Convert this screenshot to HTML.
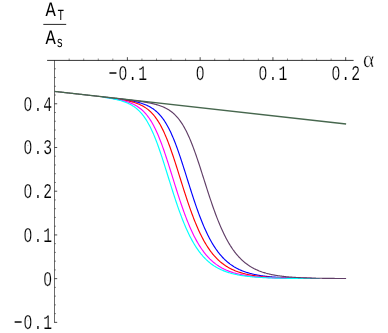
<!DOCTYPE html>
<html><head><meta charset="utf-8"><title>A_T/A_s vs alpha</title><style>html,body{margin:0;padding:0;background:#fff;}body{width:388px;height:333px;overflow:hidden;font-family:"Liberation Sans",sans-serif;}</style></head><body>
<svg width="388" height="333" viewBox="0 0 388 333" style="display:block;will-change:transform">
<rect width="388" height="333" fill="#fff"/>
<g stroke="#000" stroke-width="1" fill="none" stroke-opacity="0.7">
<path d="M47.1,60.4 H353.6" stroke-opacity="0.8"/>
<path d="M54.5,60.4 V322.8" stroke-opacity="0.58"/>
<path d="M69.16,60.4 v-1.9" stroke-opacity="0.45"/>
<path d="M83.71,60.4 v-1.9" stroke-opacity="0.45"/>
<path d="M98.27,60.4 v-1.9" stroke-opacity="0.45"/>
<path d="M112.82,60.4 v-1.9" stroke-opacity="0.45"/>
<path d="M127.38,60.4 v-3.2"/>
<path d="M141.93,60.4 v-1.9" stroke-opacity="0.45"/>
<path d="M156.49,60.4 v-1.9" stroke-opacity="0.45"/>
<path d="M171.04,60.4 v-1.9" stroke-opacity="0.45"/>
<path d="M185.59,60.4 v-1.9" stroke-opacity="0.45"/>
<path d="M200.15,60.4 v-3.2"/>
<path d="M214.71,60.4 v-1.9" stroke-opacity="0.45"/>
<path d="M229.26,60.4 v-1.9" stroke-opacity="0.45"/>
<path d="M243.81,60.4 v-1.9" stroke-opacity="0.45"/>
<path d="M258.37,60.4 v-1.9" stroke-opacity="0.45"/>
<path d="M272.93,60.4 v-3.2"/>
<path d="M287.48,60.4 v-1.9" stroke-opacity="0.45"/>
<path d="M302.04,60.4 v-1.9" stroke-opacity="0.45"/>
<path d="M316.59,60.4 v-1.9" stroke-opacity="0.45"/>
<path d="M331.14,60.4 v-1.9" stroke-opacity="0.45"/>
<path d="M345.70,60.4 v-3.2"/>
<path d="M54.5,322.37 h2.7"/>
<path d="M54.5,313.63 h1.5" stroke-opacity="0.45"/>
<path d="M54.5,304.88 h1.5" stroke-opacity="0.45"/>
<path d="M54.5,296.14 h1.5" stroke-opacity="0.45"/>
<path d="M54.5,287.39 h1.5" stroke-opacity="0.45"/>
<path d="M54.5,278.65 h2.7"/>
<path d="M54.5,269.91 h1.5" stroke-opacity="0.45"/>
<path d="M54.5,261.16 h1.5" stroke-opacity="0.45"/>
<path d="M54.5,252.42 h1.5" stroke-opacity="0.45"/>
<path d="M54.5,243.67 h1.5" stroke-opacity="0.45"/>
<path d="M54.5,234.93 h2.7"/>
<path d="M54.5,226.19 h1.5" stroke-opacity="0.45"/>
<path d="M54.5,217.44 h1.5" stroke-opacity="0.45"/>
<path d="M54.5,208.70 h1.5" stroke-opacity="0.45"/>
<path d="M54.5,199.95 h1.5" stroke-opacity="0.45"/>
<path d="M54.5,191.21 h2.7"/>
<path d="M54.5,182.47 h1.5" stroke-opacity="0.45"/>
<path d="M54.5,173.72 h1.5" stroke-opacity="0.45"/>
<path d="M54.5,164.98 h1.5" stroke-opacity="0.45"/>
<path d="M54.5,156.23 h1.5" stroke-opacity="0.45"/>
<path d="M54.5,147.49 h2.7"/>
<path d="M54.5,138.75 h1.5" stroke-opacity="0.45"/>
<path d="M54.5,130.00 h1.5" stroke-opacity="0.45"/>
<path d="M54.5,121.26 h1.5" stroke-opacity="0.45"/>
<path d="M54.5,112.51 h1.5" stroke-opacity="0.45"/>
<path d="M54.5,103.77 h2.7"/>
<path d="M54.5,95.03 h1.5" stroke-opacity="0.45"/>
<path d="M54.5,86.28 h1.5" stroke-opacity="0.45"/>
<path d="M54.5,77.54 h1.5" stroke-opacity="0.45"/>
<path d="M54.5,68.79 h1.5" stroke-opacity="0.45"/>
</g>
<g fill="none" stroke-width="1.15" stroke-linejoin="round">
<path d="M121.07,99.18 L121.77,99.28 L122.46,99.38 L123.16,99.48 L123.85,99.58 L124.55,99.69 L125.24,99.80 L125.94,99.91 L126.63,100.02 L127.33,100.13 L128.02,100.25 L128.71,100.37 L129.41,100.49 L130.10,100.62 L130.80,100.75 L131.49,100.88 L132.19,101.01 L132.88,101.15 L133.58,101.30 L134.27,101.45 L134.96,101.60 L135.66,101.76 L136.35,101.92 L137.05,102.09 L137.74,102.27 L138.44,102.45 L139.13,102.64 L139.83,102.84 L140.52,103.04 L141.22,103.25 L141.91,103.48 L142.60,103.71 L143.30,103.95 L143.99,104.20 L144.69,104.47 L145.38,104.74 L146.08,105.03 L146.77,105.34 L147.47,105.65 L148.16,105.99 L148.86,106.34 L149.55,106.70 L150.24,107.09 L150.94,107.49 L151.63,107.91 L152.33,108.36 L153.02,108.83 L153.72,109.32 L154.41,109.84 L155.11,110.38 L155.80,110.95 L156.50,111.55 L157.19,112.18 L157.88,112.84 L158.58,113.53 L159.27,114.26 L159.97,115.02 L160.66,115.82 L161.36,116.66 L162.05,117.54 L162.75,118.46 L163.44,119.43 L164.13,120.43 L164.83,121.49 L165.52,122.58 L166.22,123.73 L166.91,124.92 L167.61,126.16 L168.30,127.45 L169.00,128.79 L169.69,130.18 L170.39,131.62 L171.08,133.11 L171.77,134.65 L172.47,136.24 L173.16,137.88 L173.86,139.56 L174.55,141.30 L175.25,143.08 L175.94,144.90 L176.64,146.77 L177.33,148.67 L178.03,150.62 L178.72,152.60 L179.41,154.62 L180.11,156.67 L180.80,158.75 L181.50,160.86 L182.19,162.99 L182.89,165.14 L183.58,167.30 L184.28,169.49 L184.97,171.68 L185.67,173.88 L186.36,176.09 L187.05,178.30 L187.75,180.51 L188.44,182.72 L189.14,184.92 L189.83,187.12 L190.53,189.30 L191.22,191.47 L191.92,193.62 L192.61,195.75 L193.30,197.87 L194.00,199.96 L194.69,202.03 L195.39,204.07 L196.08,206.08 L196.78,208.07 L197.47,210.02 L198.17,211.95 L198.86,213.84 L199.56,215.69 L200.25,217.52 L200.94,219.31 L201.64,221.06 L202.33,222.78 L203.03,224.46 L203.72,226.10 L204.42,227.70 L205.11,229.27 L205.81,230.80 L206.50,232.30 L207.20,233.76 L207.89,235.18 L208.58,236.56 L209.28,237.91 L209.97,239.22 L210.67,240.49 L211.36,241.73 L212.06,242.94 L212.75,244.11 L213.45,245.25 L214.14,246.35 L214.84,247.42 L215.53,248.46 L216.22,249.47 L216.92,250.45 L217.61,251.40 L218.31,252.32 L219.00,253.21 L219.70,254.07 L220.39,254.90 L221.09,255.71 L221.78,256.49 L222.47,257.25 L223.17,257.98 L223.86,258.69 L224.56,259.37 L225.25,260.04 L225.95,260.68 L226.64,261.30 L227.34,261.90 L228.03,262.47 L228.73,263.03 L229.42,263.57 L230.11,264.10 L230.81,264.60 L231.50,265.09 L232.20,265.56 L232.89,266.01 L233.59,266.45 L234.28,266.88 L234.98,267.29 L235.67,267.68 L236.37,268.07 L237.06,268.43 L237.75,268.79 L238.45,269.13 L239.14,269.47 L239.84,269.79 L240.53,270.10 L241.23,270.39 L241.92,270.68 L242.62,270.96 L243.31,271.23 L244.01,271.49 L244.70,271.74 L245.39,271.98 L246.09,272.21 L246.78,272.44 L247.48,272.65 L248.17,272.86 L248.87,273.06 L249.56,273.26 L250.26,273.45 L250.95,273.63 L251.64,273.80 L252.34,273.97 L253.03,274.14 L253.73,274.29 L254.42,274.44 L255.12,274.59 L255.81,274.73 L256.51,274.87 L257.20,275.00 L257.90,275.13 L258.59,275.25 L259.28,275.37 L259.98,275.48 L260.67,275.59 L261.37,275.70 L262.06,275.80 L262.76,275.90 L263.45,275.99 L264.15,276.09 L264.84,276.17 L265.54,276.26 L266.23,276.34 L266.92,276.42 L267.62,276.50 L268.31,276.57 L269.01,276.64 L269.70,276.71 L270.40,276.78 L271.09,276.84 L271.79,276.91 L272.48,276.97 L273.18,277.02 L273.87,277.08 L274.56,277.13 L275.26,277.18 L275.95,277.23 L276.65,277.28 L277.34,277.33 L278.04,277.37 L278.73,277.42 L279.43,277.46 L280.12,277.50 L280.81,277.54 L281.51,277.58 L282.20,277.61 L282.90,277.65 L283.59,277.68 L284.29,277.71 L284.98,277.74 L285.68,277.77 L286.37,277.80 L287.07,277.83 L287.76,277.86 L288.45,277.88 L289.15,277.91 L289.84,277.93 L290.54,277.96 L291.23,277.98 L291.93,278.00 L292.62,278.02 L293.32,278.04 L294.01,278.06 L294.71,278.08 L295.40,278.10 L296.09,278.12 L296.79,278.14 L297.48,278.15 L298.18,278.17 L298.87,278.18 L299.57,278.20 L300.26,278.21 L300.96,278.23 L301.65,278.24 L302.35,278.25 L303.04,278.26 L303.73,278.28 L304.43,278.29 L305.12,278.30 L305.82,278.31 L306.51,278.32 L307.21,278.33 L307.90,278.34 L308.60,278.35 L309.29,278.36 L309.98,278.37 L310.68,278.37 L311.37,278.38 L312.07,278.39" stroke="#0000ff"/>
<path d="M114.13,98.40 L114.82,98.50 L115.52,98.60 L116.21,98.71 L116.91,98.81 L117.60,98.92 L118.30,99.02 L118.99,99.13 L119.69,99.25 L120.38,99.36 L121.07,99.48 L121.77,99.60 L122.46,99.72 L123.16,99.85 L123.85,99.98 L124.55,100.11 L125.24,100.25 L125.94,100.39 L126.63,100.53 L127.33,100.68 L128.02,100.83 L128.71,100.99 L129.41,101.16 L130.10,101.33 L130.80,101.51 L131.49,101.69 L132.19,101.88 L132.88,102.08 L133.58,102.28 L134.27,102.50 L134.96,102.72 L135.66,102.96 L136.35,103.20 L137.05,103.45 L137.74,103.72 L138.44,104.00 L139.13,104.29 L139.83,104.59 L140.52,104.91 L141.22,105.25 L141.91,105.60 L142.60,105.97 L143.30,106.36 L143.99,106.76 L144.69,107.19 L145.38,107.64 L146.08,108.11 L146.77,108.61 L147.47,109.13 L148.16,109.67 L148.86,110.25 L149.55,110.85 L150.24,111.49 L150.94,112.15 L151.63,112.85 L152.33,113.59 L153.02,114.36 L153.72,115.16 L154.41,116.01 L155.11,116.90 L155.80,117.82 L156.50,118.79 L157.19,119.81 L157.88,120.87 L158.58,121.97 L159.27,123.13 L159.97,124.33 L160.66,125.58 L161.36,126.88 L162.05,128.23 L162.75,129.63 L163.44,131.08 L164.13,132.58 L164.83,134.13 L165.52,135.73 L166.22,137.38 L166.91,139.07 L167.61,140.82 L168.30,142.61 L169.00,144.44 L169.69,146.32 L170.39,148.24 L171.08,150.20 L171.77,152.19 L172.47,154.22 L173.16,156.28 L173.86,158.37 L174.55,160.49 L175.25,162.63 L175.94,164.79 L176.64,166.97 L177.33,169.16 L178.03,171.37 L178.72,173.58 L179.41,175.80 L180.11,178.02 L180.80,180.24 L181.50,182.46 L182.19,184.67 L182.89,186.87 L183.58,189.06 L184.28,191.24 L184.97,193.40 L185.67,195.54 L186.36,197.67 L187.05,199.77 L187.75,201.84 L188.44,203.89 L189.14,205.91 L189.83,207.90 L190.53,209.86 L191.22,211.79 L191.92,213.69 L192.61,215.55 L193.30,217.38 L194.00,219.17 L194.69,220.93 L195.39,222.65 L196.08,224.34 L196.78,225.99 L197.47,227.60 L198.17,229.17 L198.86,230.70 L199.56,232.20 L200.25,233.66 L200.94,235.09 L201.64,236.47 L202.33,237.82 L203.03,239.14 L203.72,240.42 L204.42,241.66 L205.11,242.87 L205.81,244.04 L206.50,245.18 L207.20,246.29 L207.89,247.36 L208.58,248.40 L209.28,249.42 L209.97,250.40 L210.67,251.34 L211.36,252.27 L212.06,253.16 L212.75,254.02 L213.45,254.86 L214.14,255.67 L214.84,256.45 L215.53,257.21 L216.22,257.94 L216.92,258.65 L217.61,259.34 L218.31,260.00 L219.00,260.64 L219.70,261.26 L220.39,261.86 L221.09,262.44 L221.78,263.00 L222.47,263.55 L223.17,264.07 L223.86,264.58 L224.56,265.06 L225.25,265.54 L225.95,265.99 L226.64,266.43 L227.34,266.86 L228.03,267.27 L228.73,267.66 L229.42,268.05 L230.11,268.41 L230.81,268.77 L231.50,269.12 L232.20,269.45 L232.89,269.77 L233.59,270.08 L234.28,270.38 L234.98,270.67 L235.67,270.95 L236.37,271.21 L237.06,271.47 L237.75,271.72 L238.45,271.97 L239.14,272.20 L239.84,272.42 L240.53,272.64 L241.23,272.85 L241.92,273.05 L242.62,273.25 L243.31,273.44 L244.01,273.62 L244.70,273.79 L245.39,273.96 L246.09,274.13 L246.78,274.28 L247.48,274.44 L248.17,274.58 L248.87,274.72 L249.56,274.86 L250.26,274.99 L250.95,275.12 L251.64,275.24 L252.34,275.36 L253.03,275.48 L253.73,275.59 L254.42,275.69 L255.12,275.79 L255.81,275.89 L256.51,275.99 L257.20,276.08 L257.90,276.17 L258.59,276.26 L259.28,276.34 L259.98,276.42 L260.67,276.49 L261.37,276.57 L262.06,276.64 L262.76,276.71 L263.45,276.78 L264.15,276.84 L264.84,276.90 L265.54,276.96 L266.23,277.02 L266.92,277.08 L267.62,277.13 L268.31,277.18 L269.01,277.23 L269.70,277.28 L270.40,277.33 L271.09,277.37 L271.79,277.41 L272.48,277.46 L273.18,277.50 L273.87,277.54 L274.56,277.57 L275.26,277.61 L275.95,277.64 L276.65,277.68 L277.34,277.71 L278.04,277.74 L278.73,277.77 L279.43,277.80 L280.12,277.83 L280.81,277.86 L281.51,277.88 L282.20,277.91 L282.90,277.93 L283.59,277.96 L284.29,277.98 L284.98,278.00 L285.68,278.02 L286.37,278.04 L287.07,278.06 L287.76,278.08 L288.45,278.10 L289.15,278.12 L289.84,278.13 L290.54,278.15 L291.23,278.17 L291.93,278.18 L292.62,278.20 L293.32,278.21 L294.01,278.22 L294.71,278.24 L295.40,278.25 L296.09,278.26 L296.79,278.27 L297.48,278.29 L298.18,278.30 L298.87,278.31 L299.57,278.32 L300.26,278.33 L300.96,278.34 L301.65,278.35 L302.35,278.36 L303.04,278.36 L303.73,278.37 L304.43,278.38 L305.12,278.39 L305.82,278.40 L306.51,278.40 L307.21,278.41 L307.90,278.42 L308.60,278.42 L309.29,278.43 L309.98,278.44 L310.68,278.44 L311.37,278.45 L312.07,278.45 L312.76,278.46 L313.46,278.46 L314.15,278.47 L314.85,278.47 L315.54,278.48 L316.24,278.48" stroke="#ff0000"/>
<path d="M106.49,97.55 L107.18,97.64 L107.88,97.75 L108.57,97.85 L109.27,97.95 L109.96,98.06 L110.66,98.16 L111.35,98.27 L112.05,98.39 L112.74,98.50 L113.43,98.62 L114.13,98.74 L114.82,98.86 L115.52,98.98 L116.21,99.11 L116.91,99.24 L117.60,99.38 L118.30,99.52 L118.99,99.66 L119.69,99.81 L120.38,99.96 L121.07,100.12 L121.77,100.29 L122.46,100.46 L123.16,100.63 L123.85,100.81 L124.55,101.00 L125.24,101.20 L125.94,101.40 L126.63,101.62 L127.33,101.84 L128.02,102.07 L128.71,102.31 L129.41,102.56 L130.10,102.83 L130.80,103.10 L131.49,103.39 L132.19,103.69 L132.88,104.01 L133.58,104.34 L134.27,104.69 L134.96,105.06 L135.66,105.44 L136.35,105.84 L137.05,106.27 L137.74,106.71 L138.44,107.18 L139.13,107.67 L139.83,108.18 L140.52,108.73 L141.22,109.30 L141.91,109.89 L142.60,110.52 L143.30,111.18 L143.99,111.87 L144.69,112.60 L145.38,113.37 L146.08,114.17 L146.77,115.00 L147.47,115.88 L148.16,116.80 L148.86,117.77 L149.55,118.77 L150.24,119.82 L150.94,120.92 L151.63,122.07 L152.33,123.26 L153.02,124.50 L153.72,125.79 L154.41,127.14 L155.11,128.53 L155.80,129.97 L156.50,131.46 L157.19,133.01 L157.88,134.60 L158.58,136.24 L159.27,137.94 L159.97,139.68 L160.66,141.46 L161.36,143.30 L162.05,145.17 L162.75,147.09 L163.44,149.04 L164.13,151.04 L164.83,153.07 L165.52,155.13 L166.22,157.22 L166.91,159.34 L167.61,161.49 L168.30,163.65 L169.00,165.84 L169.69,168.04 L170.39,170.25 L171.08,172.47 L171.77,174.70 L172.47,176.93 L173.16,179.16 L173.86,181.39 L174.55,183.61 L175.25,185.83 L175.94,188.03 L176.64,190.22 L177.33,192.40 L178.03,194.56 L178.72,196.69 L179.41,198.81 L180.11,200.90 L180.80,202.97 L181.50,205.01 L182.19,207.02 L182.89,208.99 L183.58,210.94 L184.28,212.86 L184.97,214.74 L185.67,216.59 L186.36,218.40 L187.05,220.17 L187.75,221.91 L188.44,223.62 L189.14,225.28 L189.83,226.91 L190.53,228.50 L191.22,230.05 L191.92,231.57 L192.61,233.05 L193.30,234.49 L194.00,235.89 L194.69,237.26 L195.39,238.59 L196.08,239.88 L196.78,241.14 L197.47,242.37 L198.17,243.55 L198.86,244.71 L199.56,245.83 L200.25,246.92 L200.94,247.97 L201.64,249.00 L202.33,249.99 L203.03,250.95 L203.72,251.89 L204.42,252.79 L205.11,253.67 L205.81,254.51 L206.50,255.33 L207.20,256.13 L207.89,256.90 L208.58,257.64 L209.28,258.36 L209.97,259.06 L210.67,259.73 L211.36,260.38 L212.06,261.01 L212.75,261.62 L213.45,262.21 L214.14,262.78 L214.84,263.32 L215.53,263.86 L216.22,264.37 L216.92,264.86 L217.61,265.34 L218.31,265.80 L219.00,266.25 L219.70,266.68 L220.39,267.10 L221.09,267.50 L221.78,267.89 L222.47,268.26 L223.17,268.63 L223.86,268.98 L224.56,269.31 L225.25,269.64 L225.95,269.95 L226.64,270.26 L227.34,270.55 L228.03,270.83 L228.73,271.10 L229.42,271.37 L230.11,271.62 L230.81,271.87 L231.50,272.10 L232.20,272.33 L232.89,272.55 L233.59,272.77 L234.28,272.97 L234.98,273.17 L235.67,273.36 L236.37,273.54 L237.06,273.72 L237.75,273.89 L238.45,274.06 L239.14,274.22 L239.84,274.37 L240.53,274.52 L241.23,274.67 L241.92,274.81 L242.62,274.94 L243.31,275.07 L244.01,275.19 L244.70,275.31 L245.39,275.43 L246.09,275.54 L246.78,275.65 L247.48,275.75 L248.17,275.85 L248.87,275.95 L249.56,276.04 L250.26,276.13 L250.95,276.22 L251.64,276.30 L252.34,276.38 L253.03,276.46 L253.73,276.54 L254.42,276.61 L255.12,276.68 L255.81,276.75 L256.51,276.81 L257.20,276.88 L257.90,276.94 L258.59,277.00 L259.28,277.05 L259.98,277.11 L260.67,277.16 L261.37,277.21 L262.06,277.26 L262.76,277.31 L263.45,277.35 L264.15,277.40 L264.84,277.44 L265.54,277.48 L266.23,277.52 L266.92,277.56 L267.62,277.59 L268.31,277.63 L269.01,277.66 L269.70,277.70 L270.40,277.73 L271.09,277.76 L271.79,277.79 L272.48,277.82 L273.18,277.85 L273.87,277.87 L274.56,277.90 L275.26,277.92 L275.95,277.95 L276.65,277.97 L277.34,277.99 L278.04,278.01 L278.73,278.03 L279.43,278.05 L280.12,278.07 L280.81,278.09 L281.51,278.11 L282.20,278.13 L282.90,278.14 L283.59,278.16 L284.29,278.18 L284.98,278.19 L285.68,278.20 L286.37,278.22 L287.07,278.23 L287.76,278.25 L288.45,278.26 L289.15,278.27 L289.84,278.28 L290.54,278.29 L291.23,278.30 L291.93,278.31 L292.62,278.32 L293.32,278.33 L294.01,278.34 L294.71,278.35 L295.40,278.36 L296.09,278.37 L296.79,278.38 L297.48,278.39 L298.18,278.39 L298.87,278.40 L299.57,278.41 L300.26,278.41 L300.96,278.42 L301.65,278.43 L302.35,278.43 L303.04,278.44 L303.73,278.44 L304.43,278.45 L305.12,278.46 L305.82,278.46 L306.51,278.47 L307.21,278.47 L307.90,278.47 L308.60,278.48 L309.29,278.48 L309.98,278.49 L310.68,278.49 L311.37,278.50 L312.07,278.50 L312.76,278.50 L313.46,278.51 L314.15,278.51 L314.85,278.51 L315.54,278.52 L316.24,278.52 L316.93,278.52 L317.62,278.52 L318.32,278.53" stroke="#ff00ff"/>
<path d="M102.32,97.09 L103.02,97.19 L103.71,97.29 L104.41,97.39 L105.10,97.49 L105.79,97.60 L106.49,97.71 L107.18,97.82 L107.88,97.93 L108.57,98.05 L109.27,98.16 L109.96,98.28 L110.66,98.41 L111.35,98.53 L112.05,98.66 L112.74,98.80 L113.43,98.93 L114.13,99.07 L114.82,99.22 L115.52,99.37 L116.21,99.52 L116.91,99.68 L117.60,99.85 L118.30,100.02 L118.99,100.20 L119.69,100.38 L120.38,100.57 L121.07,100.77 L121.77,100.98 L122.46,101.19 L123.16,101.42 L123.85,101.65 L124.55,101.90 L125.24,102.15 L125.94,102.42 L126.63,102.70 L127.33,102.99 L128.02,103.30 L128.71,103.62 L129.41,103.96 L130.10,104.31 L130.80,104.68 L131.49,105.07 L132.19,105.48 L132.88,105.91 L133.58,106.36 L134.27,106.84 L134.96,107.33 L135.66,107.86 L136.35,108.41 L137.05,108.99 L137.74,109.59 L138.44,110.23 L139.13,110.90 L139.83,111.61 L140.52,112.34 L141.22,113.12 L141.91,113.93 L142.60,114.78 L143.30,115.67 L143.99,116.61 L144.69,117.58 L145.38,118.61 L146.08,119.67 L146.77,120.79 L147.47,121.95 L148.16,123.16 L148.86,124.41 L149.55,125.72 L150.24,127.08 L150.94,128.49 L151.63,129.95 L152.33,131.46 L153.02,133.02 L153.72,134.63 L154.41,136.29 L155.11,138.00 L155.80,139.76 L156.50,141.56 L157.19,143.41 L157.88,145.30 L158.58,147.24 L159.27,149.21 L159.97,151.22 L160.66,153.26 L161.36,155.34 L162.05,157.44 L162.75,159.57 L163.44,161.73 L164.13,163.91 L164.83,166.10 L165.52,168.31 L166.22,170.53 L166.91,172.76 L167.61,175.00 L168.30,177.23 L169.00,179.47 L169.69,181.70 L170.39,183.93 L171.08,186.15 L171.77,188.36 L172.47,190.55 L173.16,192.73 L173.86,194.89 L174.55,197.03 L175.25,199.14 L175.94,201.23 L176.64,203.30 L177.33,205.33 L178.03,207.34 L178.72,209.32 L179.41,211.26 L180.11,213.17 L180.80,215.05 L181.50,216.89 L182.19,218.70 L182.89,220.47 L183.58,222.21 L184.28,223.90 L184.97,225.56 L185.67,227.19 L186.36,228.77 L187.05,230.32 L187.75,231.83 L188.44,233.30 L189.14,234.74 L189.83,236.14 L190.53,237.50 L191.22,238.82 L191.92,240.11 L192.61,241.36 L193.30,242.58 L194.00,243.76 L194.69,244.91 L195.39,246.03 L196.08,247.11 L196.78,248.16 L197.47,249.18 L198.17,250.17 L198.86,251.12 L199.56,252.05 L200.25,252.95 L200.94,253.82 L201.64,254.66 L202.33,255.48 L203.03,256.27 L203.72,257.03 L204.42,257.77 L205.11,258.49 L205.81,259.18 L206.50,259.85 L207.20,260.50 L207.89,261.12 L208.58,261.73 L209.28,262.31 L209.97,262.88 L210.67,263.42 L211.36,263.95 L212.06,264.46 L212.75,264.95 L213.45,265.43 L214.14,265.89 L214.84,266.33 L215.53,266.76 L216.22,267.17 L216.92,267.57 L217.61,267.96 L218.31,268.33 L219.00,268.69 L219.70,269.04 L220.39,269.37 L221.09,269.70 L221.78,270.01 L222.47,270.31 L223.17,270.60 L223.86,270.88 L224.56,271.15 L225.25,271.41 L225.95,271.67 L226.64,271.91 L227.34,272.15 L228.03,272.37 L228.73,272.59 L229.42,272.80 L230.11,273.01 L230.81,273.20 L231.50,273.39 L232.20,273.58 L232.89,273.75 L233.59,273.92 L234.28,274.09 L234.98,274.25 L235.67,274.40 L236.37,274.55 L237.06,274.69 L237.75,274.83 L238.45,274.96 L239.14,275.09 L239.84,275.21 L240.53,275.33 L241.23,275.45 L241.92,275.56 L242.62,275.67 L243.31,275.77 L244.01,275.87 L244.70,275.97 L245.39,276.06 L246.09,276.15 L246.78,276.24 L247.48,276.32 L248.17,276.40 L248.87,276.48 L249.56,276.55 L250.26,276.62 L250.95,276.69 L251.64,276.76 L252.34,276.83 L253.03,276.89 L253.73,276.95 L254.42,277.01 L255.12,277.06 L255.81,277.12 L256.51,277.17 L257.20,277.22 L257.90,277.27 L258.59,277.32 L259.28,277.36 L259.98,277.40 L260.67,277.45 L261.37,277.49 L262.06,277.53 L262.76,277.56 L263.45,277.60 L264.15,277.64 L264.84,277.67 L265.54,277.70 L266.23,277.73 L266.92,277.77 L267.62,277.79 L268.31,277.82 L269.01,277.85 L269.70,277.88 L270.40,277.90 L271.09,277.93 L271.79,277.95 L272.48,277.97 L273.18,278.00 L273.87,278.02 L274.56,278.04 L275.26,278.06 L275.95,278.08 L276.65,278.10 L277.34,278.11 L278.04,278.13 L278.73,278.15 L279.43,278.16 L280.12,278.18 L280.81,278.19 L281.51,278.21 L282.20,278.22 L282.90,278.23 L283.59,278.25 L284.29,278.26 L284.98,278.27 L285.68,278.28 L286.37,278.29 L287.07,278.31 L287.76,278.32 L288.45,278.33 L289.15,278.34 L289.84,278.34 L290.54,278.35 L291.23,278.36 L291.93,278.37 L292.62,278.38 L293.32,278.39 L294.01,278.39 L294.71,278.40 L295.40,278.41 L296.09,278.42 L296.79,278.42 L297.48,278.43 L298.18,278.43 L298.87,278.44 L299.57,278.45 L300.26,278.45 L300.96,278.46 L301.65,278.46 L302.35,278.47 L303.04,278.47 L303.73,278.48 L304.43,278.48 L305.12,278.48 L305.82,278.49 L306.51,278.49 L307.21,278.50 L307.90,278.50 L308.60,278.50 L309.29,278.51 L309.98,278.51 L310.68,278.51 L311.37,278.52 L312.07,278.52 L312.76,278.52 L313.46,278.52 L314.15,278.53 L314.85,278.53 L315.54,278.53 L316.24,278.53 L316.93,278.54 L317.62,278.54 L318.32,278.54 L319.01,278.54 L319.71,278.55" stroke="#00ffff"/>
<path d="M54.40,91.41 L55.09,91.49 L55.79,91.57 L56.48,91.64 L57.18,91.72 L57.87,91.80 L58.57,91.88 L59.26,91.95 L59.96,92.03 L60.65,92.11 L61.35,92.19 L62.04,92.27 L62.73,92.34 L63.43,92.42 L64.12,92.50 L64.82,92.58 L65.51,92.65 L66.21,92.73 L66.90,92.81 L67.60,92.89 L68.29,92.96 L68.98,93.04 L69.68,93.12 L70.37,93.20 L71.07,93.27 L71.76,93.35 L72.46,93.43 L73.15,93.51 L73.85,93.59 L74.54,93.66 L75.24,93.74 L75.93,93.82 L76.62,93.90 L77.32,93.97 L78.01,94.05 L78.71,94.13 L79.40,94.21 L80.10,94.28 L80.79,94.36 L81.49,94.44 L82.18,94.52 L82.88,94.60 L83.57,94.67 L84.26,94.75 L84.96,94.83 L85.65,94.91 L86.35,94.98 L87.04,95.06 L87.74,95.14 L88.43,95.22 L89.13,95.30 L89.82,95.37 L90.52,95.45 L91.21,95.53 L91.90,95.61 L92.60,95.68 L93.29,95.76 L93.99,95.84 L94.68,95.92 L95.38,96.00 L96.07,96.07 L96.77,96.15 L97.46,96.23 L98.16,96.31 L98.85,96.39 L99.54,96.46 L100.24,96.54 L100.93,96.62 L101.63,96.70 L102.32,96.78 L103.02,96.86 L103.71,96.93 L104.41,97.01 L105.10,97.09 L105.79,97.17 L106.49,97.25 L107.18,97.33 L107.88,97.41 L108.57,97.48 L109.27,97.56 L109.96,97.64 L110.66,97.72 L111.35,97.80 L112.05,97.88 L112.74,97.96 L113.43,98.04 L114.13,98.12 L114.82,98.20 L115.52,98.28 L116.21,98.36 L116.91,98.44 L117.60,98.52 L118.30,98.60 L118.99,98.68 L119.69,98.76 L120.38,98.84 L121.07,98.92 L121.77,99.01 L122.46,99.09 L123.16,99.17 L123.85,99.25 L124.55,99.34 L125.24,99.42 L125.94,99.50 L126.63,99.59 L127.33,99.67 L128.02,99.76 L128.71,99.84 L129.41,99.93 L130.10,100.02 L130.80,100.11 L131.49,100.19 L132.19,100.28 L132.88,100.37 L133.58,100.46 L134.27,100.56 L134.96,100.65 L135.66,100.74 L136.35,100.84 L137.05,100.93 L137.74,101.03 L138.44,101.13 L139.13,101.23 L139.83,101.33 L140.52,101.43 L141.22,101.54 L141.91,101.64 L142.60,101.75 L143.30,101.86 L143.99,101.98 L144.69,102.09 L145.38,102.21 L146.08,102.33 L146.77,102.46 L147.47,102.58 L148.16,102.71 L148.86,102.85 L149.55,102.98 L150.24,103.13 L150.94,103.27 L151.63,103.42 L152.33,103.58 L153.02,103.74 L153.72,103.91 L154.41,104.08 L155.11,104.26 L155.80,104.45 L156.50,104.64 L157.19,104.84 L157.88,105.05 L158.58,105.27 L159.27,105.49 L159.97,105.73 L160.66,105.98 L161.36,106.24 L162.05,106.51 L162.75,106.79 L163.44,107.08 L164.13,107.39 L164.83,107.72 L165.52,108.06 L166.22,108.42 L166.91,108.79 L167.61,109.19 L168.30,109.60 L169.00,110.03 L169.69,110.49 L170.39,110.97 L171.08,111.47 L171.77,112.00 L172.47,112.56 L173.16,113.14 L173.86,113.76 L174.55,114.40 L175.25,115.08 L175.94,115.78 L176.64,116.53 L177.33,117.31 L178.03,118.13 L178.72,118.99 L179.41,119.88 L180.11,120.82 L180.80,121.80 L181.50,122.83 L182.19,123.90 L182.89,125.02 L183.58,126.18 L184.28,127.40 L184.97,128.66 L185.67,129.96 L186.36,131.32 L187.05,132.73 L187.75,134.19 L188.44,135.70 L189.14,137.25 L189.83,138.86 L190.53,140.51 L191.22,142.21 L191.92,143.96 L192.61,145.75 L193.30,147.58 L194.00,149.46 L194.69,151.37 L195.39,153.32 L196.08,155.31 L196.78,157.32 L197.47,159.37 L198.17,161.45 L198.86,163.54 L199.56,165.66 L200.25,167.80 L200.94,169.96 L201.64,172.12 L202.33,174.30 L203.03,176.48 L203.72,178.67 L204.42,180.86 L205.11,183.04 L205.81,185.22 L206.50,187.40 L207.20,189.56 L207.89,191.71 L208.58,193.85 L209.28,195.96 L209.97,198.06 L210.67,200.14 L211.36,202.19 L212.06,204.22 L212.75,206.22 L213.45,208.19 L214.14,210.14 L214.84,212.05 L215.53,213.93 L216.22,215.78 L216.92,217.60 L217.61,219.38 L218.31,221.12 L219.00,222.83 L219.70,224.51 L220.39,226.14 L221.09,227.74 L221.78,229.31 L222.47,230.83 L223.17,232.32 L223.86,233.78 L224.56,235.19 L225.25,236.58 L225.95,237.92 L226.64,239.23 L227.34,240.50 L228.03,241.74 L228.73,242.94 L229.42,244.11 L230.11,245.25 L230.81,246.35 L231.50,247.42 L232.20,248.46 L232.89,249.47 L233.59,250.44 L234.28,251.39 L234.98,252.31 L235.67,253.20 L236.37,254.06 L237.06,254.89 L237.75,255.70 L238.45,256.48 L239.14,257.24 L239.84,257.97 L240.53,258.68 L241.23,259.37 L241.92,260.03 L242.62,260.67 L243.31,261.29 L244.01,261.89 L244.70,262.47 L245.39,263.03 L246.09,263.57 L246.78,264.09 L247.48,264.59 L248.17,265.08 L248.87,265.55 L249.56,266.01 L250.26,266.45 L250.95,266.87 L251.64,267.28 L252.34,267.68 L253.03,268.06 L253.73,268.43 L254.42,268.79 L255.12,269.13 L255.81,269.46 L256.51,269.78 L257.20,270.09 L257.90,270.39 L258.59,270.68 L259.28,270.96 L259.98,271.22 L260.67,271.48 L261.37,271.73 L262.06,271.98 L262.76,272.21 L263.45,272.43 L264.15,272.65 L264.84,272.86 L265.54,273.06 L266.23,273.26 L266.92,273.44 L267.62,273.63 L268.31,273.80 L269.01,273.97 L269.70,274.13 L270.40,274.29 L271.09,274.44 L271.79,274.59 L272.48,274.73 L273.18,274.87 L273.87,275.00 L274.56,275.13 L275.26,275.25 L275.95,275.37 L276.65,275.48 L277.34,275.59 L278.04,275.70 L278.73,275.80 L279.43,275.90 L280.12,275.99 L280.81,276.08 L281.51,276.17 L282.20,276.26 L282.90,276.34 L283.59,276.42 L284.29,276.50 L284.98,276.57 L285.68,276.64 L286.37,276.71 L287.07,276.78 L287.76,276.84 L288.45,276.91 L289.15,276.97 L289.84,277.02 L290.54,277.08 L291.23,277.13 L291.93,277.18 L292.62,277.23 L293.32,277.28 L294.01,277.33 L294.71,277.37 L295.40,277.42 L296.09,277.46 L296.79,277.50 L297.48,277.54 L298.18,277.58 L298.87,277.61 L299.57,277.65 L300.26,277.68 L300.96,277.71 L301.65,277.74 L302.35,277.77 L303.04,277.80 L303.73,277.83 L304.43,277.86 L305.12,277.88 L305.82,277.91 L306.51,277.93 L307.21,277.96 L307.90,277.98 L308.60,278.00 L309.29,278.02 L309.98,278.04 L310.68,278.06 L311.37,278.08 L312.07,278.10 L312.76,278.12 L313.46,278.14 L314.15,278.15 L314.85,278.17 L315.54,278.18 L316.24,278.20 L316.93,278.21 L317.62,278.23 L318.32,278.24 L319.01,278.25 L319.71,278.26 L320.40,278.28 L321.10,278.29 L321.79,278.30 L322.49,278.31 L323.18,278.32 L323.88,278.33 L324.57,278.34 L325.26,278.35 L325.96,278.36 L326.65,278.37 L327.35,278.37 L328.04,278.38 L328.74,278.39 L329.43,278.40 L330.13,278.40 L330.82,278.41 L331.52,278.42 L332.21,278.42 L332.90,278.43 L333.60,278.44 L334.29,278.44 L334.99,278.45 L335.68,278.45 L336.38,278.46 L337.07,278.46 L337.77,278.47 L338.46,278.47 L339.15,278.48 L339.85,278.48 L340.54,278.49 L341.24,278.49 L341.93,278.49 L342.63,278.50 L343.32,278.50 L344.02,278.50 L344.71,278.51 L345.41,278.51 L346.10,278.51" stroke="#603e67"/>
<path d="M54.4,91.41 L346.1,124.01" stroke="#47674e" stroke-width="1.4"/>
</g>
<g font-family="'Liberation Mono', monospace" fill="#000" stroke="#fff" stroke-width="0.18" text-rendering="geometricPrecision">
<text transform="translate(107.95,80.40) scale(0.7,1)" x="0.77 14.91 29.06 43.20" y="0" font-size="21.0">−0.1</text>
<text transform="translate(195.20,80.40) scale(0.7,1)" x="0.77" y="0" font-size="21.0">0</text>
<text transform="translate(258.07,80.40) scale(0.7,1)" x="0.77 14.91 29.06" y="0" font-size="21.0">0.1</text>
<text transform="translate(330.85,80.40) scale(0.7,1)" x="0.77 14.91 29.06" y="0" font-size="21.0">0.2</text>
<text transform="translate(23.00,110.77) scale(0.7,1)" x="0.77 14.91 29.06" y="0" font-size="21.0">0.4</text>
<text transform="translate(23.00,154.49) scale(0.7,1)" x="0.77 14.91 29.06" y="0" font-size="21.0">0.3</text>
<text transform="translate(23.00,198.21) scale(0.7,1)" x="0.77 14.91 29.06" y="0" font-size="21.0">0.2</text>
<text transform="translate(23.00,241.93) scale(0.7,1)" x="0.77 14.91 29.06" y="0" font-size="21.0">0.1</text>
<text transform="translate(42.80,285.65) scale(0.7,1)" x="0.77" y="0" font-size="21.0">0</text>
<text transform="translate(13.10,329.37) scale(0.7,1)" x="0.77 14.91 29.06 43.20" y="0" font-size="21.0">−0.1</text>
</g>
<g font-family="'Liberation Mono', monospace" fill="#000" text-rendering="geometricPrecision">
<text transform="translate(45.40,16.00) scale(0.84,1)" x="0.07" y="0" font-size="20.4">A</text>
<text transform="translate(56.20,19.60) scale(0.7,1)" x="1.78" y="0" font-size="15.5">T</text>
<text transform="translate(45.40,44.30) scale(0.84,1)" x="0.07" y="0" font-size="20.4">A</text>
<text transform="translate(55.30,46.90) scale(0.7,1)" x="1.78" y="0" font-size="15.5">s</text>
</g>
<g fill="#fff">
<ellipse cx="122.80" cy="73.43" rx="1.40" ry="2.06"/>
<ellipse cx="200.15" cy="73.43" rx="1.40" ry="2.06"/>
<ellipse cx="263.02" cy="73.43" rx="1.40" ry="2.06"/>
<ellipse cx="335.80" cy="73.43" rx="1.40" ry="2.06"/>
<ellipse cx="27.95" cy="103.80" rx="1.40" ry="2.06"/>
<ellipse cx="27.95" cy="147.52" rx="1.40" ry="2.06"/>
<ellipse cx="27.95" cy="191.24" rx="1.40" ry="2.06"/>
<ellipse cx="27.95" cy="234.96" rx="1.40" ry="2.06"/>
<ellipse cx="47.75" cy="278.68" rx="1.40" ry="2.06"/>
<ellipse cx="27.95" cy="322.40" rx="1.40" ry="2.06"/>
</g>
<path d="M43.3,24.4 H66.2" stroke="#000" stroke-width="1" stroke-opacity="0.85"/>
<text transform="translate(363.0,66.9) scale(0.91,1)" font-family="'Liberation Serif', serif" font-size="23.7" fill="#000" stroke="#fff" stroke-width="0.4" text-rendering="geometricPrecision">α</text>
</svg>
</body></html>
